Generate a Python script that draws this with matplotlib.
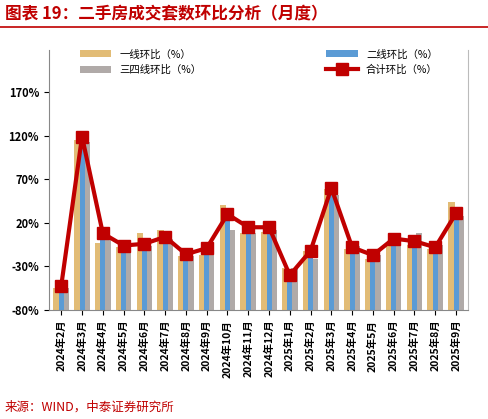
import matplotlib.pyplot as plt
import numpy as np

plt.rcParams['font.family'] = ['Noto Sans CJK SC', 'DejaVu Sans']

months = ["2024年2月", "2024年3月", "2024年4月", "2024年5月", "2024年6月", "2024年7月",
          "2024年8月", "2024年9月", "2024年10月", "2024年11月", "2024年12月", "2025年1月",
          "2025年2月", "2025年3月", "2025年4月", "2025年5月", "2025年6月", "2025年7月",
          "2025年8月", "2025年9月"]
tier1 = [-55, 115, -3, -8, 8, 12, -18, -17, 40, 8, 10, -32, -12, 59, -10, -21, -4, -5, -10, 44]
tier2 = [-57, 110, 1, -10, -12, -4, -18, -17, 23, 8, 8, -45, -18, 52, -14, -24, -5, -5, -14, 23]
tier34 = [-55, 113, 1, -10, -7, 1, -18, -17, 12, 8, 12, -32, -21, 52, -7, -17, -2, 8, -5, 28]
total = [-52, 119, 8, -6, -4, 4, -16, -9, 30, 15, 15, -40, -12, 60, -8, -17, 2, -1, -8, 31]
yticks = [-80, -30, 20, 70, 120, 170]

fig = plt.figure(figsize=(4.88, 4.19), dpi=100)
fig.text(0.01, 0.955, "图表 19：二手房成交套数环比分析（月度）", color="#c00000",
         fontsize=12, fontweight="bold", style="italic")
fig.add_artist(plt.Line2D([0.0, 1.0], [0.935, 0.935], color="#c00000", lw=1.2))
fig.text(0.01, 0.02, "来源：WIND，中泰证券研究所", color="#c00000", fontsize=9)

ax = fig.add_axes([0.10, 0.26, 0.86, 0.62])
x = np.arange(len(months))
base = -80
w = 0.22
ax.bar(x - w, np.array(tier1) - base, w * 1.4, bottom=base, color="#e2bc76", label="一线环比（%）")
ax.bar(x + w, np.array(tier34) - base, w * 1.4, bottom=base, color="#b0aaa8", label="三四线环比（%）")
ax.bar(x, np.array(tier2) - base, w * 1.1, bottom=base, color="#5b9bd5", label="二线环比（%）")
ax.plot(x, total, color="#c00000", lw=3, marker="s", ms=8, label="合计环比（%）")

ax.set_ylim(-80, 218)
ax.set_xlim(-0.6, len(months) - 0.4)
ax.set_yticks(yticks)
ax.set_yticklabels([f"{v}%" for v in yticks], fontsize=8, fontweight="bold")
ax.set_xticks(x)
ax.set_xticklabels(months, rotation=90, fontsize=7.5, fontweight="bold")
ax.spines["top"].set_visible(False)
ax.spines["right"].set_color("#bbbbbb")
ax.spines["left"].set_color("#888888")
ax.spines["bottom"].set_color("#888888")

h, l = ax.get_legend_handles_labels()
order = [1, 2, 3, 0]
ax.legend([h[i] for i in order], [l[i] for i in order], ncol=2, loc="upper center",
          frameon=False, fontsize=7.5, columnspacing=12, handlelength=3,
          bbox_to_anchor=(0.5, 1.04))

fig.savefig("out.png", dpi=100)
